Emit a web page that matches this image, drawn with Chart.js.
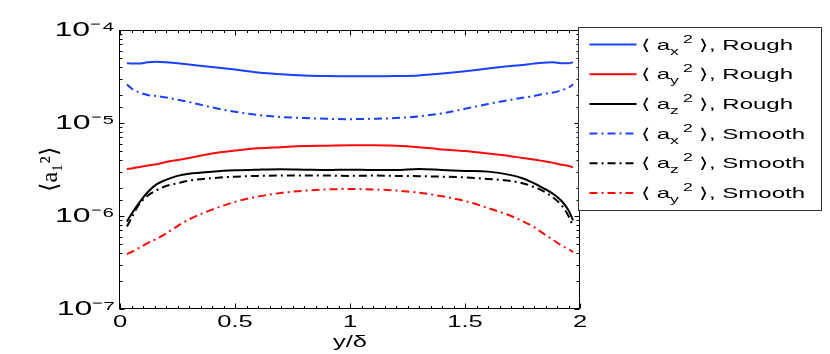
<!DOCTYPE html>
<html><head><meta charset="utf-8">
<script src="https://cdn.jsdelivr.net/npm/chart.js@4/dist/chart.umd.min.js"></script>
<style>html,body{margin:0;padding:0;background:#fff;overflow:hidden}canvas{display:block}</style>
</head><body>
<canvas id="c" width="830" height="354"></canvas>
<script>
// ---------- data ----------
const yPos = [0.03,0.05,0.08,0.12,0.16,0.2,0.25,0.3,0.4,0.5,0.6,0.7,0.8,0.9,1.0,1.1,1.2,1.3,1.4,1.5,1.6,1.7,1.75,1.8,1.84,1.88,1.92,1.95,1.97];
const axRough = [4.4e-5,4.35e-5,4.35e-5,4.5e-5,4.55e-5,4.5e-5,4.4e-5,4.25e-5,4.0e-5,3.75e-5,3.5e-5,3.35e-5,3.25e-5,3.2e-5,3.18e-5,3.18e-5,3.2e-5,3.25e-5,3.4e-5,3.6e-5,3.85e-5,4.1e-5,4.2e-5,4.35e-5,4.45e-5,4.5e-5,4.4e-5,4.4e-5,4.5e-5];
const ayRough = [3.2e-6,3.25e-6,3.35e-6,3.5e-6,3.6e-6,3.8e-6,4.0e-6,4.2e-6,4.7e-6,5.05e-6,5.35e-6,5.5e-6,5.65e-6,5.7e-6,5.75e-6,5.75e-6,5.7e-6,5.5e-6,5.2e-6,5.0e-6,4.7e-6,4.4e-6,4.2e-6,4.05e-6,3.9e-6,3.75e-6,3.55e-6,3.45e-6,3.33e-6];
const azRough = [0.87e-6,1.05e-6,1.35e-6,1.8e-6,2.2e-6,2.45e-6,2.7e-6,2.85e-6,3.0e-6,3.1e-6,3.15e-6,3.18e-6,3.15e-6,3.12e-6,3.15e-6,3.12e-6,3.12e-6,3.2e-6,3.12e-6,3.05e-6,3.0e-6,2.75e-6,2.55e-6,2.25e-6,2.0e-6,1.75e-6,1.45e-6,1.15e-6,0.9e-6];
const axSmooth = [2.6e-5,2.35e-5,2.15e-5,2.0e-5,1.95e-5,1.88e-5,1.78e-5,1.68e-5,1.47e-5,1.32e-5,1.22e-5,1.16e-5,1.13e-5,1.11e-5,1.1e-5,1.11e-5,1.13e-5,1.18e-5,1.27e-5,1.42e-5,1.6e-5,1.78e-5,1.87e-5,1.95e-5,2.05e-5,2.12e-5,2.25e-5,2.4e-5,2.6e-5];
const azSmooth = [0.77e-6,0.95e-6,1.3e-6,1.65e-6,1.9e-6,2.1e-6,2.25e-6,2.4e-6,2.55e-6,2.65e-6,2.7e-6,2.72e-6,2.72e-6,2.72e-6,2.7e-6,2.72e-6,2.7e-6,2.68e-6,2.65e-6,2.6e-6,2.5e-6,2.38e-6,2.25e-6,2.05e-6,1.85e-6,1.6e-6,1.3e-6,1.0e-6,0.77e-6];
const aySmooth = [0.39e-6,0.41e-6,0.45e-6,0.51e-6,0.57e-6,0.65e-6,0.78e-6,0.92e-6,1.17e-6,1.42e-6,1.62e-6,1.77e-6,1.87e-6,1.93e-6,1.95e-6,1.93e-6,1.88e-6,1.78e-6,1.63e-6,1.45e-6,1.22e-6,1.0e-6,0.88e-6,0.76e-6,0.65e-6,0.56e-6,0.48e-6,0.44e-6,0.41e-6];

const seriesComp = ['x','y','z','x','z','y'];
const seriesSurf = ['Rough','Rough','Rough','Smooth','Smooth','Smooth'];
const seriesVals = [axRough, ayRough, azRough, axSmooth, azSmooth, aySmooth];

const xTickValues = [0, 0.5, 1, 1.5, 2];
const xTickLabels = ['0', '0.5', '1', '1.5', '2'];
const yTickValues = [1e-7, 1e-6, 1e-5, 1e-4];
const yTickLabels = ['10\u207B\u2077', '10\u207B\u2076', '10\u207B\u2075', '10\u207B\u2074'];
const xTitle = 'y/\u03B4';
const yTitle = '\u27E8a\u2081\u00B2\u27E9';

// ---------- styles ----------
const BLUE = 'rgb(28,64,255)', RED = 'rgb(255,10,10)', BLACK = '#000';
const seriesColor = [BLUE, RED, BLACK, BLUE, BLACK, RED];
const DASHDOT = [8, 4, 2, 4];
const seriesDash = [[], [], [], DASHDOT, DASHDOT, DASHDOT];
const SX = 1.6; // horizontal stretch of the reference's lettering

const origFillText = CanvasRenderingContext2D.prototype.fillText;
function installStretch(ctx) {
  if (ctx.__stretch) return;
  ctx.__stretch = true;
  ctx.fillText = function (text, x, y) {
    const m = this.getTransform();
    if (Math.abs(m.b) > 1e-6 || Math.abs(m.c) > 1e-6) return origFillText.call(this, text, x, y);
    this.save();
    this.translate(x, y); this.scale(SX, 1); this.translate(-x, -y);
    origFillText.call(this, text, x, y);
    this.restore();
  };
}

const stretchPlugin = { id: 'stretch', beforeInit(chart) { installStretch(chart.ctx); } };

const framePlugin = {
  id: 'frame',
  afterDatasetsDraw(chart) {
    const { ctx, chartArea: a, scales: { x, y } } = chart;
    const L = Math.round(a.left) - 0.5, R = Math.round(a.right) - 0.5;
    const T = Math.round(a.top) + 0.5, B = Math.round(a.bottom) - 0.5;
    ctx.save();
    ctx.strokeStyle = '#000'; ctx.lineWidth = 1; ctx.setLineDash([]);
    ctx.strokeRect(L, T, R - L, B - T);
    ctx.beginPath();
    x.ticks.forEach(t => {
      const px = Math.round(x.getPixelForValue(t.value)) + 0.5;
      const major = xTickValues.some(v => Math.abs(v - t.value) < 1e-6);
      const len = major ? 5 : 2.5;
      ctx.moveTo(px, B); ctx.lineTo(px, B - len);
      ctx.moveTo(px, T); ctx.lineTo(px, T + len);
    });
    y.ticks.forEach(t => {
      const py = Math.round(y.getPixelForValue(t.value)) + 0.5;
      const major = yTickValues.some(v => Math.abs(Math.log10(v) - Math.log10(t.value)) < 1e-6);
      const len = major ? 5 : 3;
      ctx.moveTo(L, py); ctx.lineTo(L + len, py);
      ctx.moveTo(R, py); ctx.lineTo(R - len, py);
    });
    ctx.stroke();
    ctx.restore();
  }
};

const legendPlugin = {
  id: 'mlegend',
  afterDraw(chart) {
    const { ctx, chartArea: a } = chart;
    const x0 = Math.round(a.right) - 1.5, y0 = Math.round(a.top) - 2.5, w = 243, h = 183;
    ctx.save();
    ctx.fillStyle = '#fff';
    ctx.fillRect(x0, y0, w, h);
    ctx.strokeStyle = '#333'; ctx.lineWidth = 1; ctx.setLineDash([]);
    ctx.strokeRect(x0, y0, w, h);
    chart.data.datasets.forEach((ds, i) => {
      const ry = y0 + 17 + i * 29.7;
      ctx.strokeStyle = ds.borderColor; ctx.lineWidth = 2;
      ctx.setLineDash(ds.borderDash || []);
      ctx.beginPath(); ctx.moveTo(x0 + 11, ry); ctx.lineTo(x0 + 58, ry); ctx.stroke();
      ctx.setLineDash([]);
      ctx.fillStyle = '#000'; ctx.textAlign = 'left'; ctx.textBaseline = 'alphabetic';
      const base = ry + 5;
      let tx = x0 + 62;
      const big = '15px "Liberation Sans", Arial, sans-serif';
      const small = '11px "Liberation Sans", Arial, sans-serif';
      ctx.font = big;
      let s = '\u27E8 a';
      ctx.fillText(s, tx, base); tx += ctx.measureText(s).width * SX;
      ctx.font = small;
      ctx.fillText(ds.comp, tx, base + 5); tx += ctx.measureText(ds.comp).width * SX + 4;
      ctx.fillText('2', tx, base - 7); tx += ctx.measureText('2').width * SX;
      ctx.font = big;
      s = ' \u27E9, ' + ds.surf;
      ctx.fillText(s, tx, base);
    });
    ctx.restore();
  }
};

const datasets = seriesVals.map((vals, i) => ({
  label: '\u27E8 a' + seriesComp[i] + '\u00B2 \u27E9, ' + seriesSurf[i],
  comp: seriesComp[i],
  surf: seriesSurf[i],
  data: yPos.map((p, k) => ({ x: p, y: vals[k] })),
  borderColor: seriesColor[i],
  borderDash: seriesDash[i],
  borderWidth: 2,
  pointRadius: 0,
  fill: false,
  cubicInterpolationMode: 'monotone'
}));

new Chart(document.getElementById('c'), {
  type: 'line',
  data: { datasets },
  plugins: [stretchPlugin, framePlugin, legendPlugin],
  options: {
    responsive: false,
    animation: false,
    devicePixelRatio: 1,
    layout: { padding: { left: 0, right: 250, top: 30, bottom: 0 } },
    plugins: { legend: { display: false }, tooltip: { enabled: false } },
    scales: {
      x: {
        type: 'linear', min: 0, max: 2,
        grid: { display: false, drawTicks: false },
        border: { display: false },
        ticks: {
          stepSize: 0.05, autoSkip: false, maxRotation: 0, padding: 4,
          color: '#000', font: { family: '"Liberation Sans", Arial, sans-serif', size: 16 },
          callback: v => { const i = xTickValues.findIndex(t => Math.abs(t - v) < 1e-6); return i >= 0 ? xTickLabels[i] : ''; }
        },
        title: { display: true, text: xTitle, color: '#000', padding: { top: 0, bottom: 2 },
          font: { family: '"Liberation Sans", Arial, sans-serif', size: 16 } },
        afterFit: s => { s.height = 45; }
      },
      y: {
        type: 'logarithmic', min: 1e-7, max: 1e-4,
        grid: { display: false, drawTicks: false },
        border: { display: false },
        ticks: {
          autoSkip: false, padding: 5, color: '#000',
          font: { family: '"Liberation Sans", Arial, sans-serif', size: 20 },
          callback: v => { const i = yTickValues.findIndex(t => Math.abs(Math.log10(t) - Math.log10(v)) < 1e-6); return i >= 0 ? yTickLabels[i] : ''; }
        },
        title: { display: true, text: yTitle, color: '#000', padding: { top: 36, bottom: 0 },
          font: { family: '"Liberation Serif", "Times New Roman", serif', size: 24 } },
        afterFit: s => { s.width = 120; }
      }
    }
  }
});
</script>
</body></html>
